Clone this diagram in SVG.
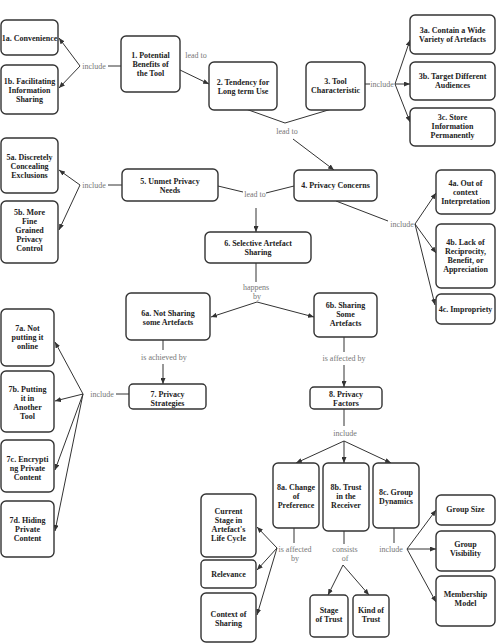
<svg xmlns="http://www.w3.org/2000/svg" width="496" height="643" viewBox="0 0 496 643">
<defs>
<marker id="ah" markerWidth="6" markerHeight="5" refX="6" refY="2.5" orient="auto" markerUnits="userSpaceOnUse">
<path d="M0,0 L6,2.5 L0,5 z" fill="#333"/>
</marker>
<style>
.n rect{fill:#fff;stroke:#333;stroke-width:1.4}
.n text{font-family:"Liberation Serif","Times New Roman",serif;font-weight:bold;font-size:8px;fill:#222;text-anchor:middle}
.c path{fill:none;stroke:#333;stroke-width:1}
.c path.a{marker-end:url(#ah)}
.c text{font-family:"Liberation Serif","Times New Roman",serif;font-size:8px;fill:#777;text-anchor:middle}
</style>
</defs>
<rect width="496" height="643" fill="#fff"/>

<g class="c" id="connectors">
<!-- 1 include -->
<path d="M121,66 L108,66"/>
<text x="94" y="69">include</text>
<path class="a" d="M80,66 L59,38"/>
<path class="a" d="M80,66 L59,88"/>
<!-- 1 lead to 2 -->
<path class="a" d="M180,70 L209,84"/>
<text x="196" y="58">lead to</text>
<!-- 3 include -->
<path d="M365,84 L370,84"/>
<text x="382" y="87">include</text>
<path class="a" d="M395,84 L410,40"/>
<path class="a" d="M395,84 L410,84"/>
<path class="a" d="M395,84 L410,122"/>
<!-- 2,3 lead to 4 -->
<path d="M243,108 L285,123 L335,108"/>
<text x="287" y="134">lead to</text>
<path class="a" d="M293,139 L334,170"/>
<!-- 5 include -->
<path d="M122,185 L108,185"/>
<text x="94" y="188">include</text>
<path class="a" d="M80,185 L59,170"/>
<path class="a" d="M80,185 L59,230"/>
<!-- 5,4 lead to 6 -->
<path d="M218,186 L243,192"/>
<text x="255" y="197">lead to</text>
<path d="M266,193 L294,186"/>
<path class="a" d="M256,208 L256,232"/>
<!-- 4 include -->
<path d="M336,201 L388,221"/>
<text x="402" y="227">include</text>
<path class="a" d="M415,224 L436,193"/>
<path class="a" d="M415,224 L436,253"/>
<path class="a" d="M415,224 L435,305"/>
<!-- 6 happens by -->
<path d="M256,263 L256,282"/>
<text x="256" y="290">happens</text>
<text x="257" y="299">by</text>
<path class="a" d="M257,302 L211,317"/>
<path class="a" d="M257,302 L314,317"/>
<!-- 6a is achieved by -->
<path d="M163,340 L163,350"/>
<text x="164" y="360">is achieved by</text>
<path class="a" d="M163,364 L163,384"/>
<!-- 7 include -->
<path d="M129,394 L116,394"/>
<text x="102" y="397">include</text>
<path class="a" d="M83,394 L55,342"/>
<path class="a" d="M83,394 L55,401"/>
<path class="a" d="M83,394 L55,470"/>
<path class="a" d="M83,394 L55,531"/>
<!-- 6b is affected by -->
<path d="M344,337 L344,352"/>
<text x="344" y="361">is affected by</text>
<path class="a" d="M344,365 L344,387"/>
<!-- 8 include -->
<path d="M344,409 L344,426"/>
<text x="345" y="436">include</text>
<path class="a" d="M344,441 L296,463"/>
<path class="a" d="M344,441 L344,463"/>
<path class="a" d="M344,441 L391,463"/>
<!-- 8a is affected by -->
<path d="M294,528 L294,543"/>
<text x="295" y="552">is affected</text>
<text x="295" y="561">by</text>
<path class="a" d="M277,548 L257,527"/>
<path class="a" d="M277,548 L257,570"/>
<path class="a" d="M277,548 L257,615"/>
<!-- 8b consists of -->
<path d="M344,531 L344,544"/>
<text x="345" y="552">consists</text>
<text x="345" y="561">of</text>
<path class="a" d="M343,565 L328,595"/>
<path class="a" d="M343,565 L369,595"/>
<!-- 8c include -->
<path d="M394,528 L394,543"/>
<text x="391" y="552">include</text>
<path class="a" d="M407,549 L436,510"/>
<path class="a" d="M407,549 L436,549"/>
<path class="a" d="M407,549 L436,602"/>
</g>

<g class="n" id="n1a"><rect x="1" y="20" width="57" height="35" rx="5"/><text x="29.5" y="40.5">1a. Convenience</text></g>
<g class="n" id="n1b"><rect x="1" y="65" width="57" height="49" rx="5"/><text x="29.5" y="83.5">1b. Facilitating</text><text x="29.5" y="92.5">Information</text><text x="29.5" y="101.5">Sharing</text></g>
<g class="n" id="n1"><rect x="121" y="36" width="59" height="56" rx="5"/><text x="150.5" y="58">1. Potential</text><text x="150.5" y="67">Benefits of</text><text x="150.5" y="76">the Tool</text></g>
<g class="n" id="n2"><rect x="209" y="62" width="68" height="48" rx="5"/><text x="243" y="84.5">2. Tendency for</text><text x="243" y="93.5">Long term Use</text></g>
<g class="n" id="n3"><rect x="306" y="62" width="59" height="48" rx="5"/><text x="335.5" y="84">3. Tool</text><text x="335.5" y="93">Characteristic</text></g>
<g class="n" id="n3a"><rect x="410" y="15" width="85" height="39" rx="5"/><text x="452.5" y="33">3a. Contain a Wide</text><text x="452.5" y="42">Variety of Artefacts</text></g>
<g class="n" id="n3b"><rect x="410" y="62" width="85" height="38" rx="5"/><text x="452.5" y="79">3b. Target Different</text><text x="452.5" y="88">Audiences</text></g>
<g class="n" id="n3c"><rect x="410" y="108" width="85" height="38" rx="5"/><text x="452.5" y="120">3c. Store</text><text x="452.5" y="129">Information</text><text x="452.5" y="138">Permanently</text></g>
<g class="n" id="n5a"><rect x="1" y="138" width="57" height="55" rx="5"/><text x="29.5" y="160">5a. Discretely</text><text x="29.5" y="169">Concealing</text><text x="29.5" y="178">Exclusions</text></g>
<g class="n" id="n5b"><rect x="1" y="201" width="57" height="62" rx="5"/><text x="29.5" y="215">5b. More</text><text x="29.5" y="224">Fine</text><text x="29.5" y="233">Grained</text><text x="29.5" y="242">Privacy</text><text x="29.5" y="251">Control</text></g>
<g class="n" id="n5"><rect x="122" y="169" width="96" height="32" rx="5"/><text x="170" y="184">5. Unmet Privacy</text><text x="170" y="193">Needs</text></g>
<g class="n" id="n4"><rect x="294" y="170" width="83" height="31" rx="5"/><text x="335.5" y="188">4. Privacy Concerns</text></g>
<g class="n" id="n4a"><rect x="436" y="170" width="59" height="44" rx="5"/><text x="465.5" y="186">4a. Out of</text><text x="465.5" y="195">context</text><text x="465.5" y="204">Interpretation</text></g>
<g class="n" id="n4b"><rect x="436" y="224" width="59" height="64" rx="5"/><text x="465.5" y="245">4b. Lack of</text><text x="465.5" y="254">Reciprocity,</text><text x="465.5" y="263">Benefit, or</text><text x="465.5" y="272">Appreciation</text></g>
<g class="n" id="n4c"><rect x="436" y="294" width="59" height="30" rx="5"/><text x="465.5" y="312">4c. Impropriety</text></g>
<g class="n" id="n6"><rect x="205" y="232" width="106" height="31" rx="5"/><text x="258" y="245.5">6. Selective Artefact</text><text x="258" y="254.5">Sharing</text></g>
<g class="n" id="n6a"><rect x="126" y="293" width="84" height="47" rx="5"/><text x="168" y="316">6a. Not Sharing</text><text x="168" y="325">some Artefacts</text></g>
<g class="n" id="n6b"><rect x="314" y="293" width="63" height="44" rx="5"/><text x="345.5" y="308">6b. Sharing</text><text x="345.5" y="317">Some</text><text x="345.5" y="326">Artefacts</text></g>
<g class="n" id="n7"><rect x="129" y="384" width="77" height="25" rx="4"/><text x="167.5" y="397">7. Privacy</text><text x="167.5" y="406">Strategies</text></g>
<g class="n" id="n7a"><rect x="1" y="309" width="53" height="57" rx="5"/><text x="27.5" y="331">7a. Not</text><text x="27.5" y="340">putting it</text><text x="27.5" y="349">online</text></g>
<g class="n" id="n7b"><rect x="1" y="371" width="53" height="61" rx="5"/><text x="27.5" y="392">7b. Putting</text><text x="27.5" y="401">it in</text><text x="27.5" y="410">Another</text><text x="27.5" y="419">Tool</text></g>
<g class="n" id="n7c"><rect x="1" y="440" width="53" height="52" rx="5"/><text x="27.5" y="462">7c. Encrypti</text><text x="27.5" y="471">ng Private</text><text x="27.5" y="480">Content</text></g>
<g class="n" id="n7d"><rect x="1" y="501" width="53" height="56" rx="5"/><text x="27.5" y="523">7d. Hiding</text><text x="27.5" y="532">Private</text><text x="27.5" y="541">Content</text></g>
<g class="n" id="n8"><rect x="310" y="387" width="72" height="22" rx="4"/><text x="346" y="397">8. Privacy</text><text x="346" y="406">Factors</text></g>
<g class="n" id="n8a"><rect x="273" y="463" width="46" height="65" rx="5"/><text x="296" y="490">8a. Change</text><text x="296" y="499">of</text><text x="296" y="508">Preference</text></g>
<g class="n" id="n8b"><rect x="323" y="463" width="46" height="68" rx="5"/><text x="346" y="490">8b. Trust</text><text x="346" y="499">in the</text><text x="346" y="508">Receiver</text></g>
<g class="n" id="n8c"><rect x="373" y="463" width="46" height="65" rx="5"/><text x="396" y="495">8c. Group</text><text x="396" y="504">Dynamics</text></g>
<g class="n" id="ncs"><rect x="201" y="494" width="55" height="63" rx="5"/><text x="228.5" y="514">Current</text><text x="228.5" y="523">Stage in</text><text x="228.5" y="532">Artefact's</text><text x="228.5" y="541">Life Cycle</text></g>
<g class="n" id="nrel"><rect x="201" y="560" width="55" height="28" rx="4"/><text x="228.5" y="577">Relevance</text></g>
<g class="n" id="nctx"><rect x="201" y="593" width="55" height="49" rx="5"/><text x="228.5" y="617">Context of</text><text x="228.5" y="626">Sharing</text></g>
<g class="n" id="nst"><rect x="310" y="595" width="38" height="42" rx="4"/><text x="329" y="613">Stage</text><text x="329" y="622">of Trust</text></g>
<g class="n" id="nkt"><rect x="353" y="595" width="36" height="42" rx="4"/><text x="371" y="613">Kind of</text><text x="371" y="622">Trust</text></g>
<g class="n" id="ngs"><rect x="436" y="495" width="59" height="30" rx="5"/><text x="465.5" y="512">Group Size</text></g>
<g class="n" id="ngv"><rect x="436" y="531" width="59" height="40" rx="5"/><text x="465.5" y="547">Group</text><text x="465.5" y="556">Visibility</text></g>
<g class="n" id="nmm"><rect x="436" y="576" width="59" height="50" rx="5"/><text x="465.5" y="597">Membership</text><text x="465.5" y="606">Model</text></g>
</svg>
